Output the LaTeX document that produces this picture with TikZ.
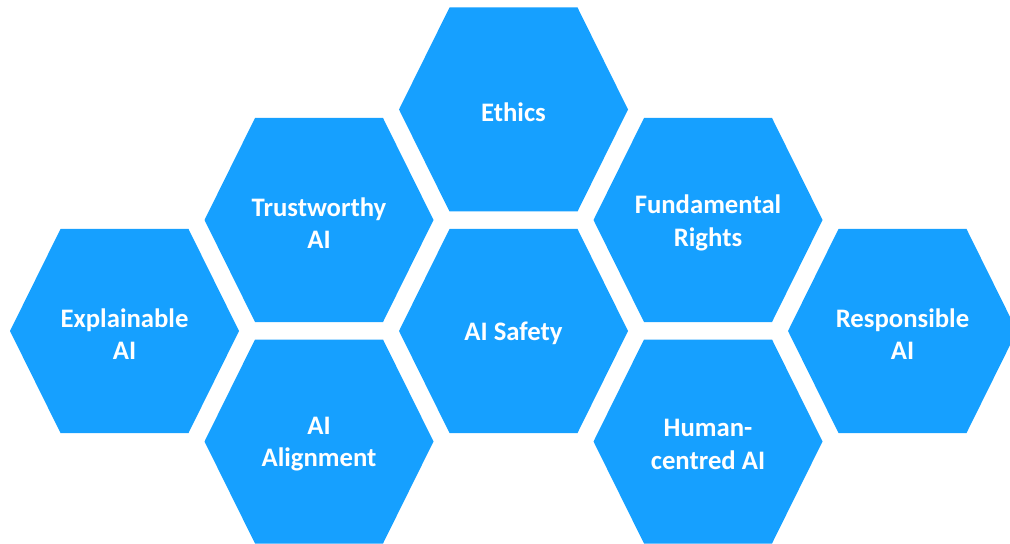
\documentclass[tikz,border=0pt]{standalone}
\usepackage{fontspec}
\setmainfont{Carlito}

\definecolor{hexblue}{RGB}{22,160,255}

\tikzset{
  hexcell/.style={fill=hexblue, draw=none},
  hexlabel/.style={text=white, align=center, yshift=-2pt,
    font=\fontsize{19}{23}\selectfont\bfseries},
}

% one honeycomb cell: x, y, name, label
\newcommand{\hexcell}[4]{%
  \begin{scope}[shift={(#1,#2)}]
    \fill[hexcell] (-114.5,0) -- (-64,-102) -- (64,-102) -- (114.5,0)
      -- (64,102) -- (-64,102) -- cycle;
    \node[hexlabel] (#3) at (0,0) {#4};
  \end{scope}}

\begin{document}
\begin{tikzpicture}[x=0.025cm, y=-0.025cm]

\useasboundingbox (0,0) rectangle (1010,544);

\hexcell{513.5}{109.5}{ethics}{Ethics}
\hexcell{319}{220}{trust}{Trustworthy\\AI}
\hexcell{708}{220}{rights}{Fundamental\\Rights}
\hexcell{124.5}{331}{explain}{Explainable\\AI}
\hexcell{513.5}{331}{safety}{AI Safety}
\hexcell{902.5}{331}{respons}{Responsible\\AI}
\hexcell{319}{441.5}{align}{AI\\Alignment}
\hexcell{708}{441.5}{human}{Human-\\centred AI}

\end{tikzpicture}
\end{document}
